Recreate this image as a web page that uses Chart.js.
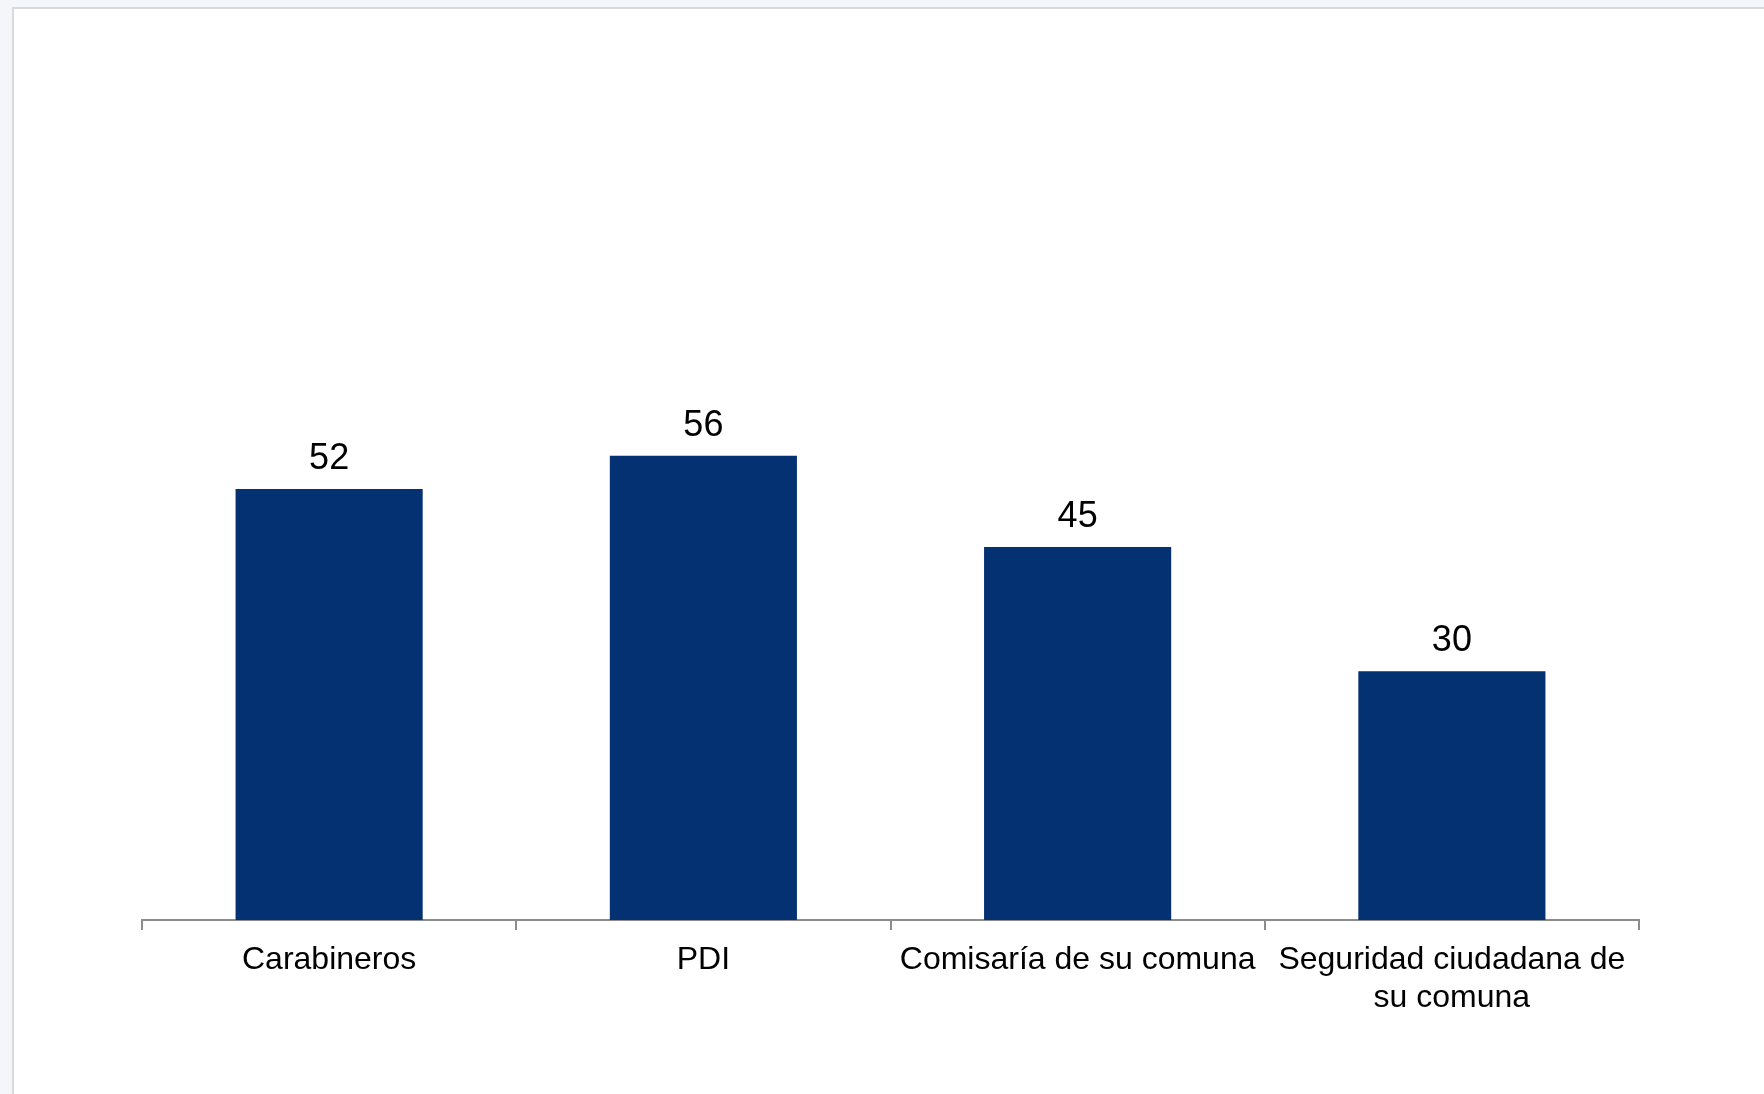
<!DOCTYPE html>
<html>
<head>
<meta charset="utf-8">
<script src="https://cdn.jsdelivr.net/npm/chart.js@4"></script>
<style>
  html, body { margin: 0; padding: 0; width: 1764px; height: 1094px; overflow: hidden; background: #f5f6fa; }
  #frame { position: absolute; left: 12px; top: 7px; right: 0; bottom: 0; background: #ffffff; border-left: 2px solid #d9d9dc; border-top: 2px solid #d9d9dc; }
  #c { position: absolute; left: 0; top: 0; }
</style>
</head>
<body>
<div id="frame"></div>
<canvas id="c" width="1764" height="1094"></canvas>
<script>
const categories = ["Carabineros", "PDI", "Comisaría de su comuna", ["Seguridad ciudadana de", "su comuna"]];
const values = [52, 56, 45, 30];
const yMin = 0;
const yMax = 100;

const valueLabels = {
  id: 'valueLabels',
  afterDatasetsDraw(chart) {
    const ctx = chart.ctx;
    const meta = chart.getDatasetMeta(0);
    ctx.save();
    ctx.font = '36px "Liberation Sans", Arial, sans-serif';
    ctx.fillStyle = '#000000';
    ctx.textAlign = 'center';
    ctx.textBaseline = 'alphabetic';
    meta.data.forEach((bar, i) => {
      ctx.fillText(String(values[i]), bar.x, bar.y - 20);
    });
    ctx.restore();
  }
};

new Chart(document.getElementById('c'), {
  type: 'bar',
  data: {
    labels: categories,
    datasets: [{
      data: values,
      backgroundColor: '#033172',
      borderWidth: 0,
      barPercentage: 0.5,
      categoryPercentage: 1.0
    }]
  },
  options: {
    responsive: false,
    animation: false,
    devicePixelRatio: 1,
    layout: { padding: { left: 142, right: 125, top: 91, bottom: 54 } },
    plugins: { legend: { display: false }, tooltip: { enabled: false } },
    scales: {
      x: {
        offset: true,
        grid: { display: true, offset: true, drawOnChartArea: false, drawTicks: true, tickLength: 10, color: '#8c8c8c', lineWidth: 2 },
        border: { display: true, color: '#8c8c8c', width: 2 },
        ticks: {
          color: '#000000',
          padding: 11,
          maxRotation: 0,
          autoSkip: false,
          font: { family: '"Liberation Sans", Arial, sans-serif', size: 32, lineHeight: 1.19 }
        },
        afterFit(scale) { scale.height = 120; }
      },
      y: {
        display: false,
        min: yMin,
        max: yMax
      }
    }
  },
  plugins: [valueLabels]
});
</script>
</body>
</html>
